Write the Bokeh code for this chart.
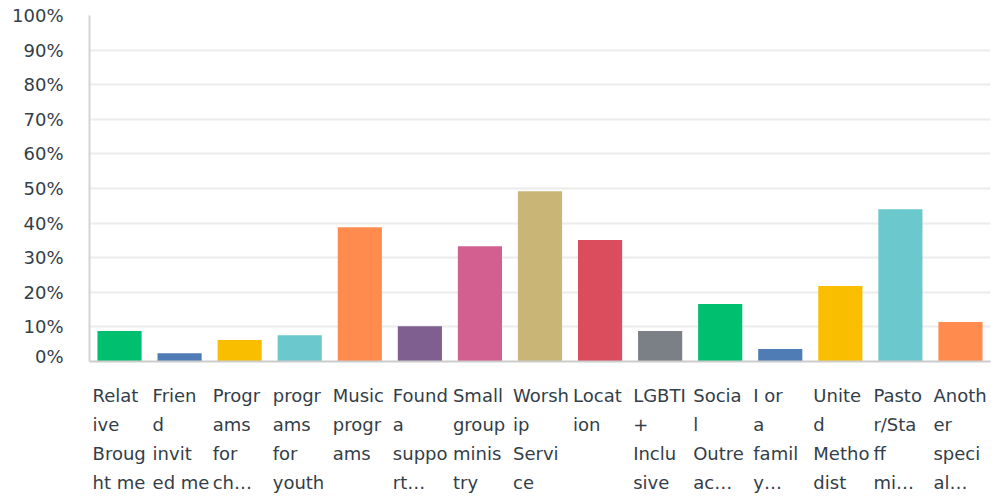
from bokeh.plotting import figure
from bokeh.layouts import column
from bokeh.models import ColumnDataSource, Range1d, FixedTicker, PrintfTickFormatter
from bokeh.core.properties import value
from bokeh.embed import file_html
from bokeh.resources import INLINE

categories = [
    "Relative Brought me", "Friend invited me", "Programs for children",
    "programs for youth", "Music programs", "Found a support",
    "Small group ministry", "Worship Service", "Location", "LGBTI+ Inclusive",
    "Social Outreach", "I or a family", "United Methodist",
    "Pastor/Staff ministry", "Another special",
]
tick_labels = [
    "Relat\nive\nBroug\nht me", "Frien\nd\ninvit\ned me", "Progr\nams\nfor\nch…",
    "progr\nams\nfor\nyouth", "Music\nprogr\nams", "Found\na\nsuppo\nrt…",
    "Small\ngroup\nminis\ntry", "Worsh\nip\nServi\nce", "Locat\nion",
    "LGBTI\n+\nInclu\nsive", "Socia\nl\nOutre\nac…", "I or\na\nfamil\ny…",
    "Unite\nd\nMetho\ndist", "Pasto\nr/Sta\nff\nmi…", "Anoth\ner\nspeci\nal…",
]
percent = [8.8, 2.4, 6.2, 7.6, 38.8, 10.2, 33.3, 49.2, 35.1, 8.8, 16.6, 3.6, 21.8, 44.0, 11.4]
colors = ["#00BF6F", "#507CB6", "#F9BE00", "#6BC8CD", "#FF8B4F", "#7F5F90",
          "#D25F90", "#C9B677", "#DB4D5C", "#7A8085", "#00BF6F", "#507CB6",
          "#F9BE00", "#6BC8CD", "#FF8B4F"]
y_ticks = [0, 10, 20, 30, 40, 50, 60, 70, 80, 90, 100]

TEXT = "#333e48"
FONT = "DejaVu Sans"

p = figure(x_range=categories, y_range=Range1d(0, 100), width=992, height=366,
           output_backend="svg", toolbar_location=None,
           min_border_left=89, min_border_right=2, min_border_top=15, min_border_bottom=5)
p.vbar(x=categories, top=percent, width=0.735, color=colors, line_color=None)

p.outline_line_color = None
p.xgrid.grid_line_color = None
p.ygrid.grid_line_color = "#ececec"
p.ygrid.grid_line_width = 2
p.yaxis.ticker = FixedTicker(ticks=y_ticks)
p.yaxis.formatter = PrintfTickFormatter(format="%d%%")
p.yaxis.major_tick_out = 0
p.yaxis.major_tick_in = 0
p.yaxis.minor_tick_line_color = None
p.yaxis.axis_line_color = "#d4d4d4"
p.yaxis.axis_line_width = 2
p.yaxis.major_label_standoff = 26
p.yaxis.major_label_text_font = FONT
p.yaxis.major_label_text_font_size = "18px"
p.yaxis.major_label_text_color = TEXT

p.xaxis.axis_line_color = "#cccccc"
p.xaxis.axis_line_width = 2
p.xaxis.major_tick_out = 0
p.xaxis.major_tick_in = 0
p.xaxis.minor_tick_line_color = None
p.xaxis.major_label_text_font_size = "1px"
p.xaxis.major_label_text_color = None
p.xaxis.major_label_standoff = 0

# label rows built from the tick label list
lx, ly, lt = [], [], []
for cat, lab in zip(categories, tick_labels):
    for i, line in enumerate(lab.split("\n")):
        lx.append(cat)
        ly.append(i)
        lt.append(line)
src = ColumnDataSource(dict(x=lx, y=ly, t=lt))

q = figure(x_range=p.x_range, y_range=Range1d(3.517, -1.0), width=992, height=131,
           output_backend="svg", toolbar_location=None,
           min_border_left=89, min_border_right=2, min_border_top=0, min_border_bottom=0)
q.text(x="x", y="y", text="t", source=src, x_offset=-27, text_align="left",
       text_baseline="middle", text_font=value(FONT), text_font_size="18px",
       text_color=TEXT)
q.axis.visible = False
q.grid.visible = False
q.outline_line_color = None

layout = column(p, q, spacing=0)
open("out.html", "w").write(file_html(layout, INLINE))
